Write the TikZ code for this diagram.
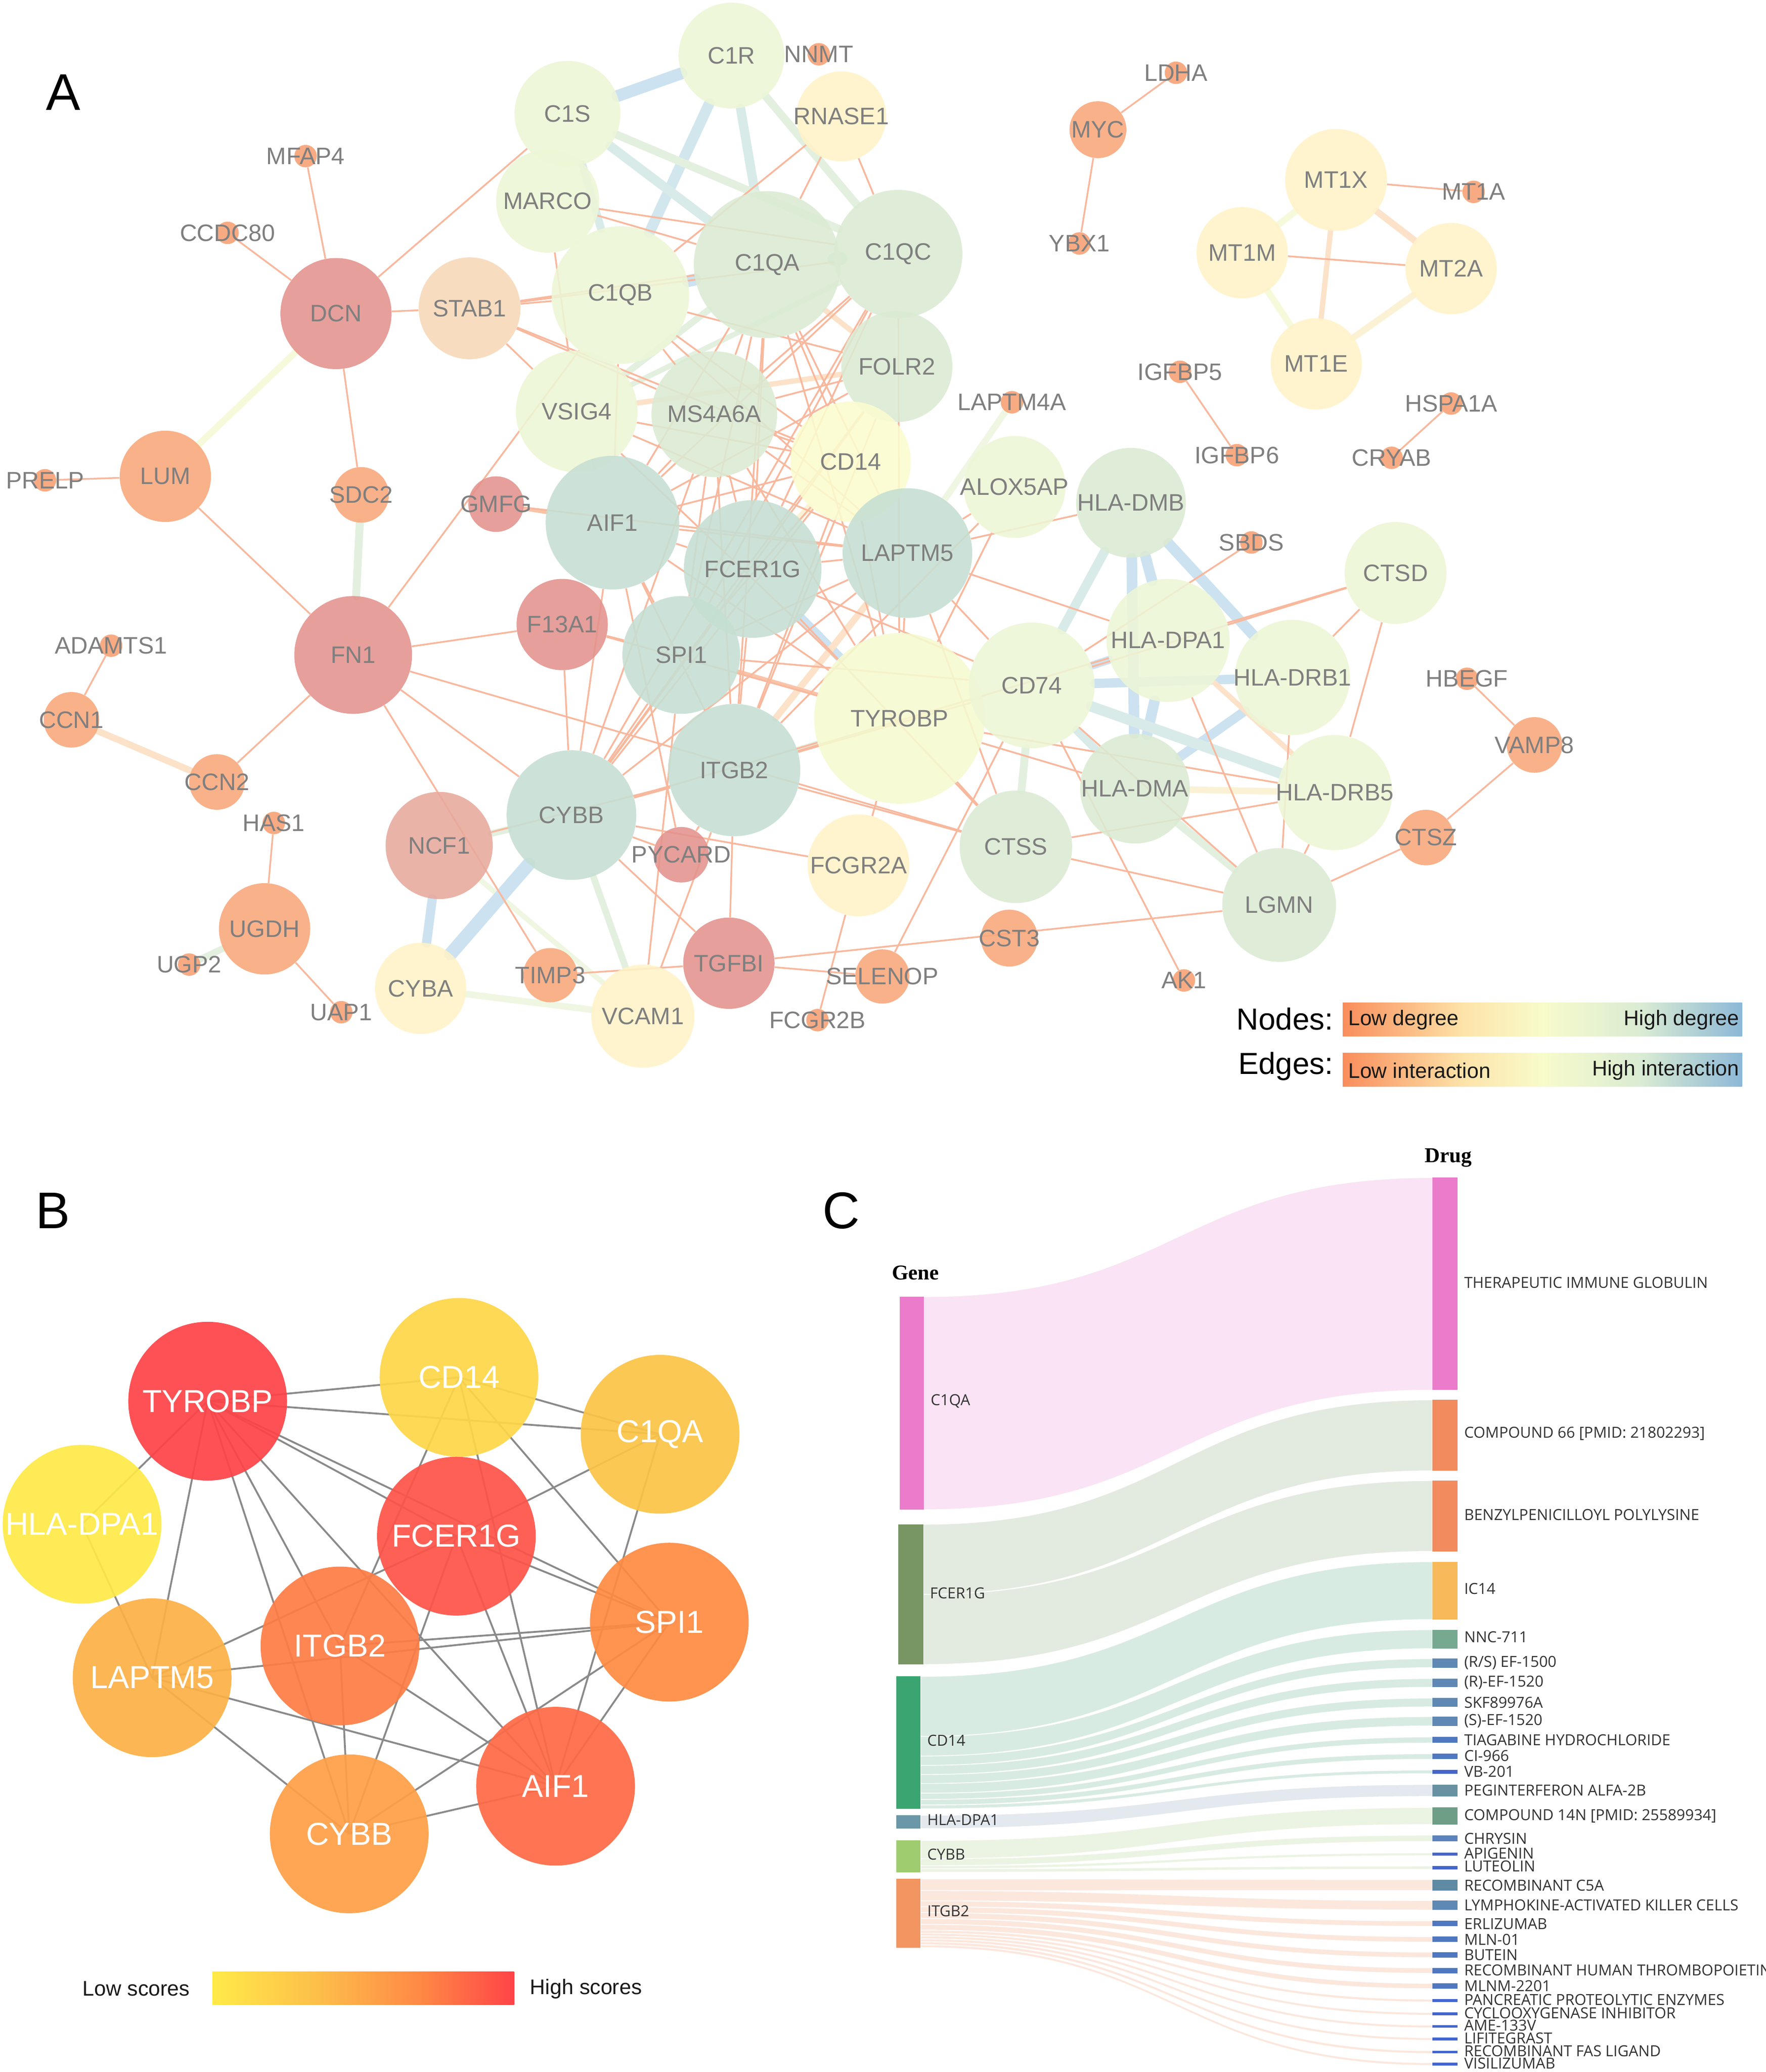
\documentclass[tikz,border=0pt]{standalone}
\usepackage{fontspec}
\setmainfont{Liberation Sans}
\newfontfamily\osans{Open Sans}
\newfontfamily\tserif{Liberation Serif}
\pgfdeclarelayer{bgl}
\pgfdeclarelayer{edges}
\pgfdeclarelayer{labels}
\pgfsetlayers{bgl,edges,main,labels}
% node colours panel A
\definecolor{cRed}{HTML}{E3928D}
\definecolor{cNcf}{HTML}{E8A99C}
\definecolor{cOr}{HTML}{F9A77A}
\definecolor{cSm}{HTML}{F8A072}
\definecolor{cStab}{HTML}{F8D8B8}
\definecolor{cCream}{HTML}{FFF3C8}
\definecolor{cPy}{HTML}{FBFCCF}
\definecolor{cTyr}{HTML}{F5FAD0}
\definecolor{cYg}{HTML}{EDF6D6}
\definecolor{cLg}{HTML}{DBEBD3}
\definecolor{cTeal}{HTML}{C5DFD3}
\definecolor{labgray}{HTML}{7F7F7F}
% edge colours
\definecolor{eThin}{HTML}{F8B89D}
\definecolor{eBlue}{HTML}{CCE2F0}
\definecolor{eBlue2}{HTML}{D2E6EE}
\definecolor{eTeal}{HTML}{D8EBE9}
\definecolor{eGreen}{HTML}{E3F0DF}
\definecolor{eGreenD}{HTML}{D1E7D4}
\definecolor{eGreenY}{HTML}{EFF7E2}
\definecolor{eYel}{HTML}{F6FADA}
\definecolor{eCream}{HTML}{FBF2D6}
\definecolor{eOra}{HTML}{FCE2C8}
\definecolor{eOra2}{HTML}{F9C4A8}
% legend
\definecolor{n0}{HTML}{F98D5B}
\definecolor{n1}{HTML}{FDE3A8}
\definecolor{n2}{HTML}{F8FBCB}
\definecolor{n3}{HTML}{D9EBD3}
\definecolor{n4}{HTML}{8CB8D6}
% panel B
\definecolor{bTyr}{HTML}{FE4347}
\definecolor{bFce}{HTML}{FE5348}
\definecolor{bAif}{HTML}{FF6A46}
\definecolor{bItg}{HTML}{FE7C45}
\definecolor{bSpi}{HTML}{FF8A42}
\definecolor{bCyb}{HTML}{FE9F46}
\definecolor{bLap}{HTML}{FDB046}
\definecolor{bC1q}{HTML}{FCC446}
\definecolor{bCd}{HTML}{FED648}
\definecolor{bHla}{HTML}{FEEA47}
\definecolor{bEdge}{HTML}{8A8A8A}
\definecolor{g0}{HTML}{FFEA48}
\definecolor{g1}{HTML}{FDBE4A}
\definecolor{g2}{HTML}{FF8645}
\definecolor{g3}{HTML}{FF4347}
% panel C
\definecolor{ctext}{HTML}{333333}
\definecolor{gC1}{HTML}{EB7BCB}
\definecolor{gFc}{HTML}{789664}
\definecolor{gCd}{HTML}{3BA571}
\definecolor{gHl}{HTML}{6A98A8}
\definecolor{gCy}{HTML}{9ECC6E}
\definecolor{gIt}{HTML}{F29560}
\definecolor{sC1}{HTML}{FAE3F4}
\definecolor{sFc}{HTML}{E3EBE0}
\definecolor{sCd}{HTML}{D8EBE3}
\definecolor{sHl}{HTML}{E3E9EE}
\definecolor{sCy}{HTML}{EBF4E3}
\definecolor{sIt}{HTML}{FCE7DD}
\definecolor{dPink}{HTML}{EB7BCB}
\definecolor{dOr}{HTML}{F28B5E}
\definecolor{dYel}{HTML}{F7B95A}
\definecolor{dGr}{HTML}{77A890}
\definecolor{dSt}{HTML}{5F88B4}
\definecolor{dSt2}{HTML}{5B84BE}
\definecolor{dBl}{HTML}{5078C0}
\definecolor{dBl2}{HTML}{4466CC}
\definecolor{dPeg}{HTML}{6892A2}
\definecolor{dGr2}{HTML}{6E9E86}
\definecolor{dC5}{HTML}{5F8AA4}

\tikzset{
  anode/.style={circle,inner sep=0pt,draw=none,fill opacity=0.88},
  alab/.style={inner sep=0pt,text=labgray,font=\fontsize{18}{18}\selectfont},
  ethin/.style={draw=eThin,line width=1.3pt},
  bnode/.style={circle,inner sep=0pt,draw=none,minimum size=120pt,fill opacity=0.92},
  blab/.style={inner sep=0pt,text=white,font=\fontsize{24}{24}\selectfont},
  bedge/.style={draw=bEdge,line width=1.4pt},
  glab/.style={inner sep=0pt,anchor=west,text=ctext,font=\osans\fontsize{11.5}{11.5}\selectfont},
  panel/.style={inner sep=0pt,font=\fontsize{39}{39}\selectfont},
  leglab/.style={inner sep=0pt,text=black!90,font=\fontsize{16}{16}\selectfont},
  legtitle/.style={inner sep=0pt,anchor=east,font=\fontsize{23}{23}\selectfont},
}

\newcommand\an[6]{%
  \node[anode,fill=#5,minimum size=#4pt] (#1) at (#2,#3) {};
  \begin{pgfonlayer}{labels}\node[alab] (#1t) at (#2,#3) {#6};\end{pgfonlayer}}
\newcommand\bn[5]{%
  \node[bnode,fill=#4] (#1) at (#2,#3) {};
  \begin{pgfonlayer}{labels}\node[blab] (#1t) at (#2,#3) {#5};\end{pgfonlayer}}

\begin{document}
\begin{tikzpicture}[x=1pt,y=-1pt]
\begin{pgfonlayer}{bgl}
\fill[white] (0,0) rectangle (1335,1566);
\end{pgfonlayer}
\useasboundingbox (0,0) rectangle (1335,1566);

%================ PANEL A ================
\node[panel] (labA) at (48,70) {A};
\an{C1R}{553}{42}{80}{cYg}{C1R}
\an{NNMT}{619}{41}{17}{cSm}{NNMT}
\an{C1S}{429}{86}{80}{cYg}{C1S}
\an{RNASE1}{636}{88}{68}{cCream}{RNASE1}
\an{MFAP4}{231}{118}{17}{cSm}{MFAP4}
\an{MARCO}{414}{152}{78}{cYg}{MARCO}
\an{CCDC80}{172}{176}{17}{cSm}{CCDC80}
\an{DCN}{254}{237}{84}{cRed}{DCN}
\an{STAB1}{355}{233}{77}{cStab}{STAB1}
\an{C1QB}{469}{223}{104}{cYg}{C1QB}
\an{C1QA}{580}{200}{111}{cLg}{C1QA}
\an{C1QC}{679}{192}{97}{cLg}{C1QC}
\an{LDHA}{889}{55}{17}{cSm}{LDHA}
\an{MYC}{830}{98}{43}{cOr}{MYC}
\an{YBX1}{816}{184}{17}{cSm}{YBX1}
\an{MT1X}{1010}{136}{77}{cCream}{MT1X}
\an{MT1A}{1114}{145}{17}{cSm}{MT1A}
\an{MT1M}{939}{191}{69}{cCream}{MT1M}
\an{MT2A}{1097}{203}{69}{cCream}{MT2A}
\an{MT1E}{995}{275}{69}{cCream}{MT1E}
\an{FOLR2}{678}{277}{84}{cLg}{FOLR2}
\an{IGFBP5}{892}{281}{17}{cSm}{IGFBP5}
\an{IGFBP6}{935}{344}{17}{cSm}{IGFBP6}
\an{HSPA1A}{1097}{305}{17}{cSm}{HSPA1A}
\an{CRYAB}{1052}{346}{17}{cSm}{CRYAB}
\an{LAPTM4A}{765}{304}{17}{cSm}{LAPTM4A}
\an{PRELP}{34}{363}{17}{cSm}{PRELP}
\an{LUM}{125}{360}{69}{cOr}{LUM}
\an{SDC2}{273}{374}{42}{cOr}{SDC2}
\an{GMFG}{375}{381}{42}{cRed}{GMFG}
\an{VSIG4}{436}{311}{92}{cYg}{VSIG4}
\an{MS4A6A}{540}{313}{95}{cLg}{MS4A6A}
\an{CD14}{643}{349}{91}{cPy}{CD14}
\an{ALOX5AP}{767}{368}{77}{cYg}{ALOX5AP}
\an{HLADMB}{855}{380}{83}{cLg}{HLA-DMB}
\an{SBDS}{946}{410}{17}{cSm}{SBDS}
\an{AIF1}{463}{395}{101}{cTeal}{AIF1}
\an{FCER1G}{569}{430}{104}{cTeal}{FCER1G}
\an{LAPTM5}{686}{418}{98}{cTeal}{LAPTM5}
\an{CTSD}{1055}{433}{77}{cYg}{CTSD}
\an{F13A1}{425}{472}{69}{cRed}{F13A1}
\an{FN1}{267}{495}{89}{cRed}{FN1}
\an{ADAMTS1}{84}{488}{17}{cSm}{ADAMTS1}
\an{SPI1}{515}{495}{89}{cTeal}{SPI1}
\an{TYROBP}{680}{543}{129}{cTyr}{TYROBP}
\an{CD74}{780}{518}{95}{cYg}{CD74}
\an{HLADPA1}{883}{484}{93}{cYg}{HLA-DPA1}
\an{HLADRB1}{977}{512}{87}{cYg}{HLA-DRB1}
\an{HBEGF}{1109}{513}{17}{cSm}{HBEGF}
\an{CCN1}{54}{544}{42}{cOr}{CCN1}
\an{VAMP8}{1160}{563}{42}{cOr}{VAMP8}
\an{CCN2}{164}{591}{42}{cOr}{CCN2}
\an{ITGB2}{555}{582}{100}{cTeal}{ITGB2}
\an{HLADMA}{858}{596}{83}{cLg}{HLA-DMA}
\an{HLADRB5}{1009}{599}{87}{cYg}{HLA-DRB5}
\an{CYBB}{432}{616}{98}{cTeal}{CYBB}
\an{HAS1}{207}{622}{17}{cSm}{HAS1}
\an{NCF1}{332}{639}{81}{cNcf}{NCF1}
\an{PYCARD}{515}{646}{42}{cRed}{PYCARD}
\an{CTSS}{768}{640}{85}{cLg}{CTSS}
\an{FCGR2A}{649}{654}{77}{cCream}{FCGR2A}
\an{CTSZ}{1078}{633}{42}{cOr}{CTSZ}
\an{LGMN}{967}{684}{86}{cLg}{LGMN}
\an{UGDH}{200}{702}{69}{cOr}{UGDH}
\an{UGP2}{143}{729}{17}{cSm}{UGP2}
\an{TGFBI}{551}{728}{69}{cRed}{TGFBI}
\an{CST3}{763}{709}{43}{cOr}{CST3}
\an{TIMP3}{416}{737}{41}{cOr}{TIMP3}
\an{SELENOP}{667}{738}{41}{cOr}{SELENOP}
\an{CYBA}{318}{747}{69}{cCream}{CYBA}
\an{VCAM1}{486}{768}{78}{cCream}{VCAM1}
\an{UAP1}{258}{765}{17}{cSm}{UAP1}
\an{AK1}{895}{741}{17}{cSm}{AK1}
\an{FCGR2B}{618}{771}{17}{cSm}{FCGR2B}

\begin{pgfonlayer}{edges}
\foreach \a/\b/\c/\w in {
 C1S/C1R/eBlue/9, C1R/C1QB/eBlue2/8, C1QB/C1QA/eBlue/9, C1R/C1QA/eTeal/7,
 C1S/C1QA/eTeal/7, C1S/C1QB/eTeal/6, C1R/C1QC/eGreen/6, C1S/C1QC/eGreen/6,
 C1QA/C1QC/eGreenD/10, C1QA/VSIG4/eGreen/5, C1QC/VSIG4/eGreen/4, SDC2/FN1/eGreen/6,
 UGDH/UGP2/eGreen/5, NCF1/CYBB/eGreen/5, CYBB/VCAM1/eGreen/5, CD74/CTSS/eGreen/6,
 HLADMA/LGMN/eGreen/6, LAPTM4A/LAPTM5/eGreenY/5, ITGB2/TYROBP/eGreen/5,
 CYBA/VCAM1/eGreenY/5, NCF1/VCAM1/eGreenY/4, CYBB/CYBA/eBlue/10, NCF1/CYBA/eBlue/7,
 FCER1G/TYROBP/eBlue/7, HLADMB/HLADMA/eBlue/8, HLADMB/HLADPA1/eBlue/8,
 HLADMB/HLADRB1/eBlue/8, HLADMB/CD74/eTeal/7, HLADPA1/HLADMA/eBlue/8,
 HLADMA/HLADRB1/eBlue/7, CD74/HLADRB1/eBlue/7, HLADPA1/CD74/eBlue/6,
 CD74/HLADRB5/eTeal/8, HLADMA/CD74/eTeal/6, DCN/LUM/eYel/5, MT1X/MT1M/eYel/5,
 MT1M/MT1E/eYel/5, MT2A/MT1E/eCream/5, HLADMA/HLADRB5/eCream/5, CD14/FCER1G/eCream/5,
 CCN1/CCN2/eOra/5, MT1X/MT2A/eOra/5, MT1X/MT1E/eOra/4, VSIG4/FOLR2/eOra/4,
 ITGB2/LAPTM5/eOra/5, HLADPA1/HLADRB5/eOra/4, C1QA/FOLR2/eOra/4, SPI1/TYROBP/eOra2/3,
 GMFG/AIF1/eOra2/3}
 {\draw[line cap=round,draw=\c,line width=\w pt] (\a) -- (\b);}
\foreach \a/\b in {
 DCN/MFAP4, DCN/CCDC80, DCN/C1S, DCN/STAB1, DCN/SDC2, LUM/PRELP, LUM/FN1, FN1/CCN2,
 FN1/F13A1, FN1/TIMP3, FN1/CYBB, FN1/CTSS, FN1/C1QB, CCN1/ADAMTS1, UGDH/HAS1, UGDH/UAP1,
 MYC/LDHA, MYC/YBX1, MT1X/MT1A, MT1M/MT2A, IGFBP5/IGFBP6, HSPA1A/CRYAB, HBEGF/VAMP8,
 VAMP8/CTSZ, CTSZ/LGMN,
 STAB1/C1QB, STAB1/C1QA, STAB1/C1QC, STAB1/MS4A6A, STAB1/CD14, STAB1/VSIG4,
 MARCO/C1QC, MARCO/C1QA, MARCO/VSIG4, RNASE1/C1QB, RNASE1/C1QA, RNASE1/C1QC,
 C1QB/FOLR2, C1QB/CD14, C1QB/MS4A6A, C1QB/AIF1, C1QB/LAPTM5,
 C1QA/MS4A6A, C1QA/AIF1, C1QA/CD14, C1QA/LAPTM5, C1QA/TYROBP, C1QA/SPI1, C1QA/FCER1G, C1QA/ITGB2,
 C1QC/AIF1, C1QC/SPI1, C1QC/TYROBP, C1QC/MS4A6A, C1QC/FCER1G, C1QC/CYBB,
 VSIG4/CD14, VSIG4/AIF1, VSIG4/TYROBP, VSIG4/LAPTM5,
 MS4A6A/FOLR2, MS4A6A/CD14, MS4A6A/AIF1, MS4A6A/FCER1G, MS4A6A/SPI1, MS4A6A/ITGB2,
 MS4A6A/TYROBP, MS4A6A/LAPTM5, MS4A6A/CYBB,
 FOLR2/AIF1, FOLR2/SPI1, FOLR2/CD14, FOLR2/ITGB2, FOLR2/CYBB,
 CD14/AIF1, CD14/SPI1, CD14/ITGB2, CD14/TYROBP, CD14/CYBB, GMFG/LAPTM5,
 AIF1/LAPTM5, AIF1/FCER1G, AIF1/SPI1, AIF1/ITGB2, AIF1/CYBB, AIF1/TYROBP, AIF1/PYCARD,
 FCER1G/LAPTM5, FCER1G/SPI1, FCER1G/ITGB2, FCER1G/CYBB, FCER1G/CD74, FCER1G/CTSS,
 LAPTM5/ALOX5AP, LAPTM5/HLADMB, LAPTM5/CD74, LAPTM5/SPI1, LAPTM5/CYBB, LAPTM5/TYROBP,
 LAPTM5/HLADPA1, LAPTM5/CTSS, ALOX5AP/TYROBP, ALOX5AP/ITGB2,
 F13A1/TYROBP, F13A1/CYBB, F13A1/SPI1, SPI1/ITGB2, SPI1/CYBB, SPI1/VCAM1, SPI1/CD74,
 TYROBP/CD74, TYROBP/FCGR2A, TYROBP/CTSS, TYROBP/HLADRB5, TYROBP/CYBB,
 ITGB2/CYBB, ITGB2/PYCARD, ITGB2/TGFBI, ITGB2/CTSS, ITGB2/VCAM1, ITGB2/HLADPA1,
 CYBB/FCGR2A, CYBB/TGFBI, CYBB/PYCARD, NCF1/ITGB2, FCGR2A/FCGR2B,
 TGFBI/TIMP3, TGFBI/SELENOP, TGFBI/LGMN, CD74/SELENOP, CD74/AK1, CD74/SBDS, CD74/CTSD,
 CD74/ITGB2, CD74/LGMN, HLADPA1/LGMN, HLADRB1/LGMN, HLADRB1/CTSD, HLADRB5/CTSD,
 HLADRB5/LGMN, HLADMA/TYROBP, HLADRB5/CTSS, LGMN/CTSS, HLADPA1/CTSD}
 {\draw[ethin] (\a) -- (\b);}
\end{pgfonlayer}

% legend A
\node[legtitle] (ltn) at (1008,770) {Nodes:};
\node[legtitle] (lte) at (1008,806) {Edges:};
\foreach \yy in {758,796}{
 \shade[left color=n0,right color=n1] (1015,\yy) rectangle (1106,\yy+25);
 \shade[left color=n1,right color=n2] (1105.5,\yy) rectangle (1166.5,\yy+25);
 \shade[left color=n2,right color=n3] (1166,\yy) rectangle (1242,\yy+25);
 \shade[left color=n3,right color=n4] (1241.5,\yy) rectangle (1317,\yy+25);
}
\node[leglab,anchor=west] (lnl) at (1019,771) {Low degree};
\node[leglab,anchor=east] (lnh) at (1315,771) {High degree};
\node[leglab,anchor=west] (lel) at (1019,809) {Low interaction};
\node[leglab,anchor=east] (leh) at (1315,809) {High interaction};

%================ PANEL B ================
\node[panel] (labB) at (40,915) {B};
\bn{bTYROBP}{157}{1059}{bTyr}{TYROBP}
\bn{bCD14}{347}{1041}{bCd}{CD14}
\bn{bC1QA}{499}{1084}{bC1q}{C1QA}
\bn{bHLA}{62}{1152}{bHla}{HLA-DPA1}
\bn{bFCER1G}{345}{1161}{bFce}{FCER1G}
\bn{bSPI1}{506}{1226}{bSpi}{SPI1}
\bn{bITGB2}{257}{1244}{bItg}{ITGB2}
\bn{bLAPTM5}{115}{1268}{bLap}{LAPTM5}
\bn{bAIF1}{420}{1350}{bAif}{AIF1}
\bn{bCYBB}{264}{1386}{bCyb}{CYBB}
\begin{pgfonlayer}{edges}
\foreach \a/\b in {bTYROBP/bCD14, bTYROBP/bC1QA, bTYROBP/bHLA, bTYROBP/bLAPTM5,
 bTYROBP/bFCER1G, bTYROBP/bSPI1, bTYROBP/bITGB2, bTYROBP/bCYBB, bTYROBP/bAIF1,
 bCD14/bC1QA, bCD14/bITGB2, bCD14/bAIF1, bCD14/bSPI1, bC1QA/bFCER1G, bC1QA/bAIF1,
 bFCER1G/bSPI1, bFCER1G/bLAPTM5, bFCER1G/bAIF1, bFCER1G/bCYBB, bITGB2/bSPI1,
 bLAPTM5/bSPI1, bITGB2/bAIF1, bITGB2/bCYBB, bLAPTM5/bAIF1, bLAPTM5/bCYBB,
 bCYBB/bAIF1, bCYBB/bSPI1, bAIF1/bSPI1, bHLA/bLAPTM5}
 {\draw[bedge] (\a.center) -- (\b.center);}
\end{pgfonlayer}
\node[leglab,anchor=center] (bll) at (103,1503) {Low scores};
\shade[left color=g0,right color=g1] (160.7,1490) rectangle (241,1515);
\shade[left color=g1,right color=g2] (240.5,1490) rectangle (321,1515);
\shade[left color=g2,right color=g3] (320.5,1490) rectangle (388.7,1515);
\node[leglab,anchor=center] (blh) at (443,1503) {High scores};

%================ PANEL C ================
\node[panel] (labC) at (636,915) {C};
\node[inner sep=0pt,font=\tserif\bfseries\fontsize{16}{16}\selectfont] (hGene) at (692,962) {Gene};
\node[inner sep=0pt,font=\tserif\bfseries\fontsize{16}{16}\selectfont] (hDrug) at (1095,875) {Drug};
% flows
\foreach \sx/\sa/\sb/\ta/\tb/\c in {
 698.5/980/1141/890/1050.6/sC1,
 698/1152/1205/1058/1111.6/sFc, 698/1205/1258/1119/1172.5/sFc,
 696/1267/1312.4/1180.3/1224/sCd, 696/1312.4/1327.2/1231.7/1246/sCd,
 696/1327.2/1334.3/1253.6/1260.4/sCd, 696/1334.3/1341.2/1268.6/1275.2/sCd,
 696/1341.2/1348/1283.4/1290/sCd, 696/1348/1355.3/1297.4/1304.4/sCd,
 696/1355.3/1360/1312.8/1317.3/sCd, 696/1360/1364.2/1325.5/1329.6/sCd,
 696/1364.2/1367/1337.8/1340.5/sCd,
 696/1372/1382/1348.7/1357.7/sHl,
 696/1391/1404.9/1366.1/1378.9/sCy, 696/1404.9/1410.1/1387/1391.8/sCy,
 696/1410.1/1412.4/1400.4/1402.5/sCy, 696/1412.4/1415/1410.3/1412.7/sCy,
 696/1420/1428.9/1420.6/1428.8/sIt, 696/1428.9/1436.6/1436.4/1443.5/sIt,
 696/1436.6/1441.1/1451.8/1455.9/sIt, 696/1441.1/1445.5/1463.7/1467.8/sIt,
 696/1445.5/1450/1475.4/1479.5/sIt, 696/1450/1454.4/1487.3/1491.4/sIt,
 696/1454.4/1458.8/1499/1503/sIt, 696/1458.8/1461.1/1510.9/1513/sIt,
 696/1461.1/1463.2/1521/1523/sIt, 696/1463.2/1465.4/1530.6/1532.6/sIt,
 696/1465.4/1467.6/1540/1542/sIt, 696/1467.6/1469.9/1549.9/1552/sIt,
 696/1469.9/1472/1559/1561/sIt}
 {\filldraw[fill=\c,draw=white,line width=0.5pt] (\sx,\sa) .. controls (890,\sa) and (890,\ta) .. (1083,\ta)
   -- (1083,\tb) .. controls (890,\tb) and (890,\sb) .. (\sx,\sb) -- cycle;}
% gene bars
\fill[gC1] (680,980) rectangle (698.5,1141);
\fill[gFc] (679,1152) rectangle (698,1258);
\fill[gCd] (677.5,1267) rectangle (696,1367);
\fill[gHl] (677.5,1372) rectangle (696,1382);
\fill[gCy] (677.5,1391) rectangle (696,1415);
\fill[gIt] (677.5,1420) rectangle (696,1472);
\node[glab] (gl1) at (703.4,1059) {C1QA};
\node[glab] (gl2) at (702.8,1204) {FCER1G};
\node[glab] (gl3) at (700.8,1315.5) {CD14};
\node[glab] (gl4) at (700.8,1375.5) {HLA-DPA1};
\node[glab] (gl5) at (700.8,1401.5) {CYBB};
\node[glab] (gl6) at (700.8,1444.5) {ITGB2};
% drug bars
\foreach \ta/\tb/\c in {890/1050.6/dPink, 1058/1111.6/dOr, 1119/1172.5/dOr, 1180.3/1224/dYel,
 1231.7/1246/dGr, 1253.6/1260.4/dSt, 1268.6/1275.2/dSt, 1283.4/1290/dSt, 1297.4/1304.4/dSt,
 1312.8/1317.3/dBl, 1325.5/1329.6/dBl, 1337.8/1340.5/dBl2, 1348.7/1357.7/dPeg,
 1366.1/1378.9/dGr2, 1387/1391.8/dSt2, 1400.4/1402.5/dBl2, 1410.3/1412.7/dBl2,
 1420.6/1428.8/dC5, 1436.4/1443.5/dSt, 1451.8/1455.9/dBl, 1463.7/1467.8/dBl,
 1475.4/1479.5/dBl, 1487.3/1491.4/dBl, 1499/1503/dBl, 1510.9/1513/dBl2, 1521/1523/dBl2,
 1530.6/1532.6/dBl2, 1540/1542/dBl2, 1549.9/1552/dBl2, 1559/1561/dBl2}
 {\fill[\c] (1083,\ta) rectangle (1102,\tb);}
\node[glab] (dl1) at (1106.7,969.5) {THERAPEUTIC IMMUNE GLOBULIN};
\node[glab] (dl2) at (1106.7,1083.6) {COMPOUND 66 [PMID: 21802293]};
\node[glab] (dl3) at (1106.7,1144.8) {BENZYLPENICILLOYL POLYLYSINE};
\node[glab] (dl4) at (1106.7,1200.7) {IC14};
\node[glab] (dl5) at (1106.7,1237.3) {NNC-711};
\node[glab] (dl6) at (1106.7,1256.6) {(R/S) EF-1500};
\node[glab] (dl7) at (1106.7,1271.6) {(R)-EF-1520};
\node[glab] (dl8) at (1106.7,1286.7) {SKF89976A};
\node[glab] (dl9) at (1106.7,1300.7) {(S)-EF-1520};
\node[glab] (dl10) at (1106.7,1315) {TIAGABINE HYDROCHLORIDE};
\node[glab] (dl11) at (1106.7,1327) {CI-966};
\node[glab] (dl12) at (1106.7,1339) {VB-201};
\node[glab] (dl13) at (1106.7,1353.2) {PEGINTERFERON ALFA-2B};
\node[glab] (dl14) at (1106.7,1372.6) {COMPOUND 14N [PMID: 25589934]};
\node[glab] (dl15) at (1106.7,1389.6) {CHRYSIN};
\node[glab] (dl16) at (1106.7,1400.6) {APIGENIN};
\node[glab] (dl17) at (1106.7,1410.6) {LUTEOLIN};
\node[glab] (dl18) at (1106.7,1424.9) {RECOMBINANT C5A};
\node[glab] (dl19) at (1106.7,1439.9) {LYMPHOKINE-ACTIVATED KILLER CELLS};
\node[glab] (dl20) at (1106.7,1453.9) {ERLIZUMAB};
\node[glab] (dl21) at (1106.7,1466) {MLN-01};
\node[glab] (dl22) at (1106.7,1477.5) {BUTEIN};
\node[glab] (dl23) at (1106.7,1489.2) {RECOMBINANT HUMAN THROMBOPOIETIN};
\node[glab] (dl24) at (1106.7,1501) {MLNM-2201};
\node[glab] (dl25) at (1106.7,1511.3) {PANCREATIC PROTEOLYTIC ENZYMES};
\node[glab] (dl26) at (1106.7,1521.4) {CYCLOOXYGENASE INHIBITOR};
\node[glab] (dl27) at (1106.7,1530.6) {AME-133V};
\node[glab] (dl28) at (1106.7,1540.4) {LIFITEGRAST};
\node[glab] (dl29) at (1106.7,1550.1) {RECOMBINANT FAS LIGAND};
\node[glab] (dl30) at (1106.7,1559.5) {VISILIZUMAB};
\end{tikzpicture}
\end{document}
